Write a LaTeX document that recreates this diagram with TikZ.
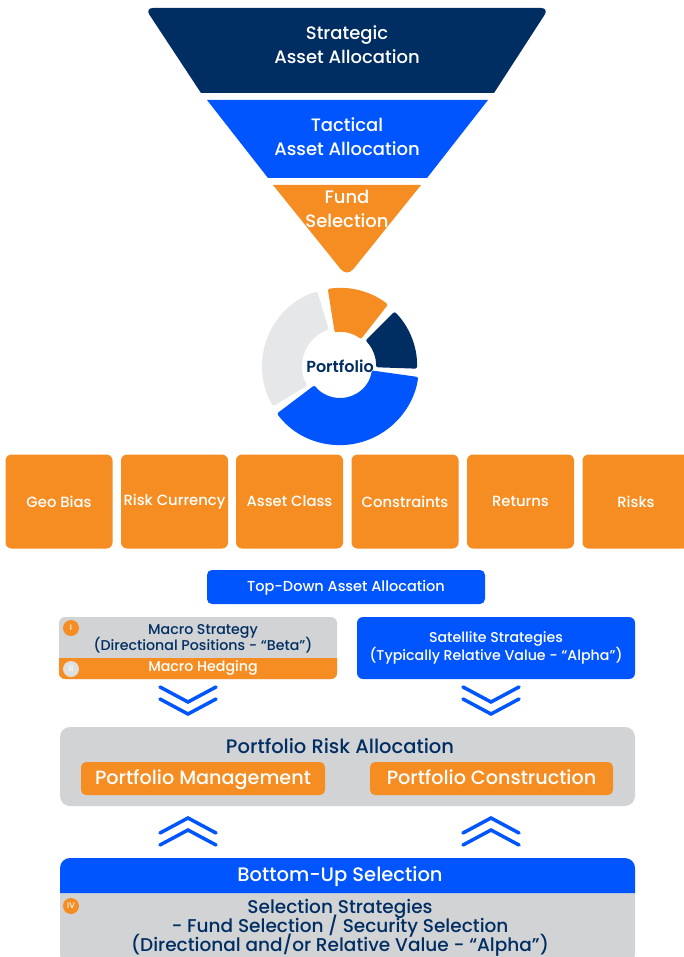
\documentclass[tikz,border=0pt]{standalone}
\usepackage{fontspec}
\setmainfont{Poppins Medium}
\newfontfamily\semib{Poppins SemiBold}
\usetikzlibrary{calc}
\definecolor{navy}{RGB}{0,45,98}
\definecolor{bblue}{RGB}{0,85,255}
\definecolor{orng}{RGB}{245,141,34}
\definecolor{lgray}{RGB}{209,211,212}
\definecolor{dgray}{RGB}{230,231,232}
\definecolor{bgray}{RGB}{222,223,224}
\newcommand{\tls}{\lineskiplimit -30pt\relax}
\begin{document}
\begin{tikzpicture}[x=1pt,y=1pt,
  ftxt/.style={text=white, align=center, font=\fontsize{18}{24}\selectfont\tls, inner sep=0},
  obox/.style={fill=orng, rounded corners=6pt, text=white, font=\fontsize{14.8}{16}\selectfont, inner sep=0, minimum width=107pt, minimum height=94pt},
  badge/.style={circle, minimum size=16pt, inner sep=0, text=white, font=\fontsize{8}{8}\selectfont},
  chev/.style={draw=bblue, line width=3.5pt, line cap=round, line join=miter},
  ntxt/.style={text=navy, align=center, inner sep=0},
  obar/.style={fill=orng, rounded corners=5pt, minimum height=33pt, inner sep=0, text=white, text depth=3pt, font=\fontsize{19.2}{19}\selectfont}]
\clip (0,0) rectangle (684,-957);
% funnel
\fill[navy] (347,-93) -- (201,-93) [rounded corners=8pt] -- (145,-8) -- (549,-8) [sharp corners] -- (494,-93) -- cycle;
\fill[bblue] (207,-100) -- (488,-100) -- (427,-178) -- (268,-178) -- cycle;
\fill[orng] (273,-185) -- (421,-185) [rounded corners=10pt] -- (347,-277) [sharp corners] -- cycle;
\node[ftxt] (sa) at (347,-45) {Strategic\\Asset Allocation};
\node[ftxt] (ta) at (347,-137) {Tactical\\Asset Allocation};
\node[ftxt] (fs) at (347,-209) {Fund\\Selection};
% donut
\coordinate (C) at (340,-366);
\newcommand{\seg}[5]{%
  \fill[#1, rounded corners=2pt] ($(C)+(#2:#4pt)$) arc[start angle=#2, end angle=#3, radius=#4pt] -- ($(C)+(#3:#5pt)$) arc[start angle=#3, end angle=#2, radius=#5pt] -- cycle;}
\seg{dgray}{107}{211}{78}{38}
\seg{orng}{52}{99}{78}{34}
\seg{navy}{-2}{45}{77}{36}
\seg{bblue}{217}{352}{79}{32}
\node[ntxt, font=\fontsize{16}{16}\selectfont\semib] (pf) at (C) {Portfolio};
% factor boxes
\node[obox] (b1) at (59,-501.5) {Geo Bias};
\node[obox] (b2) at (174.5,-501.5) {Risk Currency};
\node[obox] (b3) at (289.5,-501.5) {Asset Class};
\node[obox] (b4) at (405,-501.5) {Constraints};
\node[obox] (b5) at (520.5,-501.5) {Returns};
\node[obox] (b6) at (636,-501.5) {Risks};
% top-down
\node[fill=bblue, rounded corners=5pt, minimum width=278pt, minimum height=34pt, inner sep=0, text=white, text depth=2pt, font=\fontsize{14.5}{16}\selectfont] (td) at (346,-587) {Top-Down Asset Allocation};
% macro box
\fill[lgray, rounded corners=6pt] (59,-617) rectangle (337,-679);
\fill[orng] (59,-658) -- (337,-658) [rounded corners=6pt] -- (337,-679) -- (59,-679) [sharp corners] -- cycle;
\node[ntxt, font=\fontsize{14.2}{15.5}\selectfont\tls] (ms) at (203,-639) {Macro Strategy\\(Directional Positions - “Beta”)};
\node[text=white, inner sep=0, font=\fontsize{14.2}{15}\selectfont] (mh) at (203,-668) {Macro Hedging};
\node[badge, fill=orng] (bI) at (71,-628) {I};
\node[badge, fill=bgray] (bII) at (71,-669) {II};
% satellite
\node[fill=bblue, rounded corners=6pt, minimum width=278pt, minimum height=62pt, inner sep=0, text=white, align=center, font=\fontsize{14.2}{18}\selectfont\tls] (ss) at (496,-648) {Satellite Strategies\\(Typically Relative Value - “Alpha”)};
% down chevrons
\foreach \cx in {188,491}{
  \draw[chev] (\cx-28,-687) -- (\cx,-702) -- (\cx+28,-687);
  \draw[chev] (\cx-28,-699) -- (\cx,-714) -- (\cx+28,-699);
}
% portfolio risk allocation
\node[fill=lgray, rounded corners=10pt, minimum width=575pt, minimum height=79pt, inner sep=0] (pra) at (347.5,-766.5) {};
\node[ntxt, font=\fontsize{19.5}{19}\selectfont] (prat) at (340,-746) {Portfolio Risk Allocation};
\node[obar, minimum width=244pt] (pm) at (203,-778.5) {Portfolio Management};
\node[obar, minimum width=243pt] (pc) at (491.5,-778.5) {Portfolio Construction};
% up chevrons
\foreach \cx in {188,491}{
  \draw[chev] (\cx-28,-833) -- (\cx,-818) -- (\cx+28,-833);
  \draw[chev] (\cx-28,-845) -- (\cx,-830) -- (\cx+28,-845);
}
% bottom-up
\fill[lgray, rounded corners=8pt] (60,-885) rectangle (635,-962);
\fill[bblue] (60,-893) [rounded corners=10pt] -- (60,-858) -- (635,-858) [sharp corners] -- (635,-893) -- cycle;
\node[text=white, inner sep=0, font=\fontsize{19.5}{19}\selectfont] (bu) at (340,-877) {Bottom-Up Selection};
\node[ntxt, font=\fontsize{18.5}{19}\selectfont\tls] (sel) at (340,-927.5) {Selection Strategies\\- Fund Selection / Security Selection\\(Directional and/or Relative Value - “Alpha”)};
\node[badge, fill=orng] (bIV) at (71,-906) {IV};
\end{tikzpicture}
\end{document}
